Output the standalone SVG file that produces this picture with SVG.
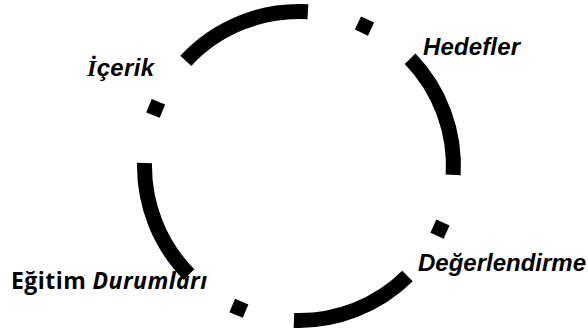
<svg xmlns="http://www.w3.org/2000/svg" width="588" height="334" viewBox="0 0 588 334">
<style>
.arc{fill:none;stroke:#000;stroke-width:15;stroke-linecap:butt}
.sq{fill:#000}
.lbl{font-family:"Liberation Sans",Arial,sans-serif;font-weight:bold;font-style:italic;fill:#000}
.ed{font-family:"Open Sans","Liberation Sans",sans-serif;font-weight:bold;fill:#000}
</style>
<rect width="588" height="334" fill="#fff"/>
<g id="cycle">
<path class="arc" d="M185.8,60.8 A154.5,154.5 0 0 1 307.9,11.8"/>
<path class="arc" d="M410.1,58.7 A154.5,154.5 0 0 1 453.2,174.9"/>
<path class="arc" d="M407.5,276 A154.5,154.5 0 0 1 293.9,320.4"/>
<path class="arc" d="M189,274.5 A154.5,154.5 0 0 1 144.5,163"/>
<rect class="sq" x="-7.25" y="-7.25" width="14.5" height="14.5" transform="translate(364.5,26.1) rotate(25.1)"/>
<rect class="sq" x="-7.25" y="-7.25" width="14.5" height="14.5" transform="translate(440,229.1) rotate(24.1)"/>
<rect class="sq" x="-7.25" y="-7.25" width="14.5" height="14.5" transform="translate(238.9,308.3) rotate(22.9)"/>
<rect class="sq" x="-7.25" y="-7.25" width="14.5" height="14.5" transform="translate(155.7,108.4) rotate(21.9)"/>
</g>
<g id="icerik"><text class="lbl" x="87" y="76" font-size="24" textLength="67" lengthAdjust="spacing"><tspan font-family="Liberation Serif,serif">İ</tspan>çerik</text></g>
<g id="hedefler"><text class="lbl" x="423" y="55" font-size="24" textLength="97" lengthAdjust="spacing">Hedefler</text></g>
<g id="degerlendirme"><text class="lbl" x="418" y="271" font-size="24" textLength="168" lengthAdjust="spacing">Değerlendirme</text></g>
<g id="egitim"><text class="ed" x="11" y="289" font-size="23" textLength="196" lengthAdjust="spacing">Eğitim <tspan font-style="italic">Durumları</tspan></text></g>
</svg>
